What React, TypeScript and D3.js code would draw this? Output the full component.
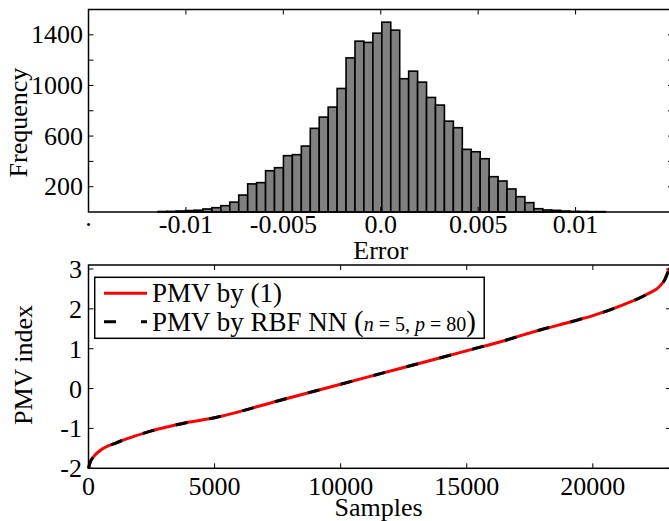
import React from 'react';
import * as d3 from 'd3';

// histogram of the approximation error (50 equal bins)
const errorBinStart = -0.01142;
const errorBinWidth = 0.000459;
const errorCounts = [
  4, 5, 8, 11, 14, 24, 34, 50, 78, 134,
  222, 232, 326, 350, 445, 453, 521, 661, 750, 829,
  976, 1218, 1350, 1340, 1413, 1500, 1437, 1053, 1113, 1026,
  905, 845, 718, 666, 495, 476, 421, 279, 245, 182,
  121, 74, 26, 16, 13, 8, 5, 4, 3, 3,
];
const errorTicks = [-0.01, -0.005, 0, 0.005, 0.01];
const errorTickLabels = ['-0.01', '-0.005', '0.0', '0.005', '0.01'];
const freqTicks = [200, 400, 600, 800, 1000, 1200, 1400];
const freqLabelled = [200, 600, 1000, 1400];

// sorted PMV values
const sampleIdx = [0, 60, 200, 450, 1100, 1800, 2500, 3200, 4000, 5000, 7500, 10000, 12500, 14000, 15000, 16580, 17900, 19220, 20000, 21200, 22130, 22660, 22860, 22980, 23082];
const pmvFormula = [-2.0, -1.86, -1.71, -1.56, -1.36, -1.2, -1.06, -0.95, -0.84, -0.73, -0.31, 0.11, 0.53, 0.78, 0.95, 1.22, 1.47, 1.69, 1.83, 2.1, 2.36, 2.57, 2.74, 2.92, 3.05];
// the network output lies on top of the formula curve
const pmvRbf = [-2.0, -1.86, -1.71, -1.56, -1.36, -1.2, -1.06, -0.95, -0.84, -0.73, -0.31, 0.11, 0.53, 0.78, 0.95, 1.22, 1.47, 1.69, 1.83, 2.1, 2.36, 2.57, 2.74, 2.92, 3.05];
const sampleTicks = [0, 5000, 10000, 15000, 20000];
const pmvTicks = [-2, -1, 0, 1, 2, 3];

const font = '"Liberation Serif", "Times New Roman", serif';
const tk = 5;

export default function App() {
  // top panel
  const hx = d3.scaleLinear().domain([-0.015, 0.015]).range([88.5, 673]);
  const hy = d3.scaleLinear().domain([0, 1600]).range([212, 9.5]);
  const [hL, hR] = hx.range();
  const [hB, hT] = hy.range();

  // bottom panel
  const sx = d3.scaleLinear().domain([0, 23100]).range([88.5, 671]);
  const sy = d3.scaleLinear().domain([-2, 3.1]).range([468.3, 265]);
  const [sL, sR] = sx.range();
  const [sB, sT] = sy.range();

  const line = (vals: number[]) =>
    d3.line<number>()
      .x((_, i) => sx(sampleIdx[i]))
      .y((d) => sy(d))
      .curve(d3.curveMonotoneX)(vals) || '';

  return (
    <svg width={669} height={521} style={{ position: 'absolute', left: 0, top: 0, background: '#fff' }} fontFamily={font}>
      {/* histogram bars */}
      {errorCounts.map((c, i) => {
        const x0 = hx(errorBinStart + i * errorBinWidth);
        const x1 = hx(errorBinStart + (i + 1) * errorBinWidth);
        return (
          <rect key={i} x={x0} y={hy(c)} width={x1 - x0} height={hy(0) - hy(c)}
            fill="#808080" stroke="#000" strokeWidth={1.6} />
        );
      })}
      <rect x={hL} y={hT} width={hR - hL} height={hB - hT} fill="none" stroke="#000" strokeWidth={1.5} />
      {errorTicks.map((t) => (
        <g key={t}>
          <line x1={hx(t)} x2={hx(t)} y1={hT} y2={hT + tk} stroke="#000" strokeWidth={1} />
          <line x1={hx(t)} x2={hx(t)} y1={hB} y2={hB - tk} stroke="#000" strokeWidth={1} />
        </g>
      ))}
      {freqTicks.map((t) => (
        <g key={t}>
          <line x1={hL} x2={hL + tk} y1={hy(t)} y2={hy(t)} stroke="#000" strokeWidth={1} />
          <line x1={hR} x2={hR - tk} y1={hy(t)} y2={hy(t)} stroke="#000" strokeWidth={1} />
        </g>
      ))}
      {freqLabelled.map((t) => (
        <text key={t} x={83} y={hy(t) + 8.5} fontSize={26} textAnchor="end">{t}</text>
      ))}
      {errorTicks.map((t, i) => (
        <text key={t} x={hx(t)} y={233} fontSize={26} textAnchor="middle">{errorTickLabels[i]}</text>
      ))}
      <text x={hx(-0.015)} y={226} fontSize={26} textAnchor="middle">.</text>
      <text x={hx(0)} y={259} fontSize={26} textAnchor="middle">Error</text>
      <text transform={`translate(26.5,122.5) rotate(-90)`} fontSize={26} textAnchor="middle">Frequency</text>

      {/* sorted PMV curves */}
      <path d={line(pmvFormula)} fill="none" stroke="#ff0000" strokeWidth={3} />
      <path d={line(pmvRbf)} fill="none" stroke="#000" strokeWidth={3} strokeDasharray="12 22" />
      <rect x={sL} y={sT} width={sR - sL} height={sB - sT} fill="none" stroke="#000" strokeWidth={1.5} />
      {sampleTicks.map((t) => (
        <g key={t}>
          <line x1={sx(t)} x2={sx(t)} y1={sT} y2={sT + tk} stroke="#000" strokeWidth={1} />
          <line x1={sx(t)} x2={sx(t)} y1={sB} y2={sB - tk} stroke="#000" strokeWidth={1} />
          <text x={sx(t)} y={495} fontSize={26} textAnchor="middle">{t}</text>
        </g>
      ))}
      {pmvTicks.map((t) => (
        <g key={t}>
          <line x1={sL} x2={sL + tk} y1={sy(t)} y2={sy(t)} stroke="#000" strokeWidth={1} />
          <line x1={sR} x2={sR - tk} y1={sy(t)} y2={sy(t)} stroke="#000" strokeWidth={1} />
          <text x={82} y={sy(t) + 9} fontSize={26} textAnchor="end">{t}</text>
        </g>
      ))}
      <text x={(sx(0) + sx(20000)) / 2 + 38} y={515.5} fontSize={26} textAnchor="middle">Samples</text>
      <text transform={`translate(31.5,365) rotate(-90)`} fontSize={26} textAnchor="middle">PMV index</text>

      {/* legend */}
      <rect x={94.7} y={277.3} width={389.5} height={61} fill="#fff" stroke="#000" strokeWidth={1.5} />
      <line x1={104} x2={147} y1={293.3} y2={293.3} stroke="#ff0000" strokeWidth={3} />
      <line x1={104} x2={147} y1={321.7} y2={321.7} stroke="#000" strokeWidth={3} strokeDasharray="12 25" />
      <text x={152} y={302.3} fontSize={27}>PMV by (1)</text>
      <text x={152} y={331.3} fontSize={27}>
        PMV by RBF NN <tspan fontSize={29}>(</tspan>
        <tspan fontSize={20} fontStyle="italic">n</tspan>
        <tspan fontSize={20}> = 5, </tspan>
        <tspan fontSize={20} fontStyle="italic">p</tspan>
        <tspan fontSize={20}> = 80</tspan>
        <tspan fontSize={29}>)</tspan>
      </text>
    </svg>
  );
}
